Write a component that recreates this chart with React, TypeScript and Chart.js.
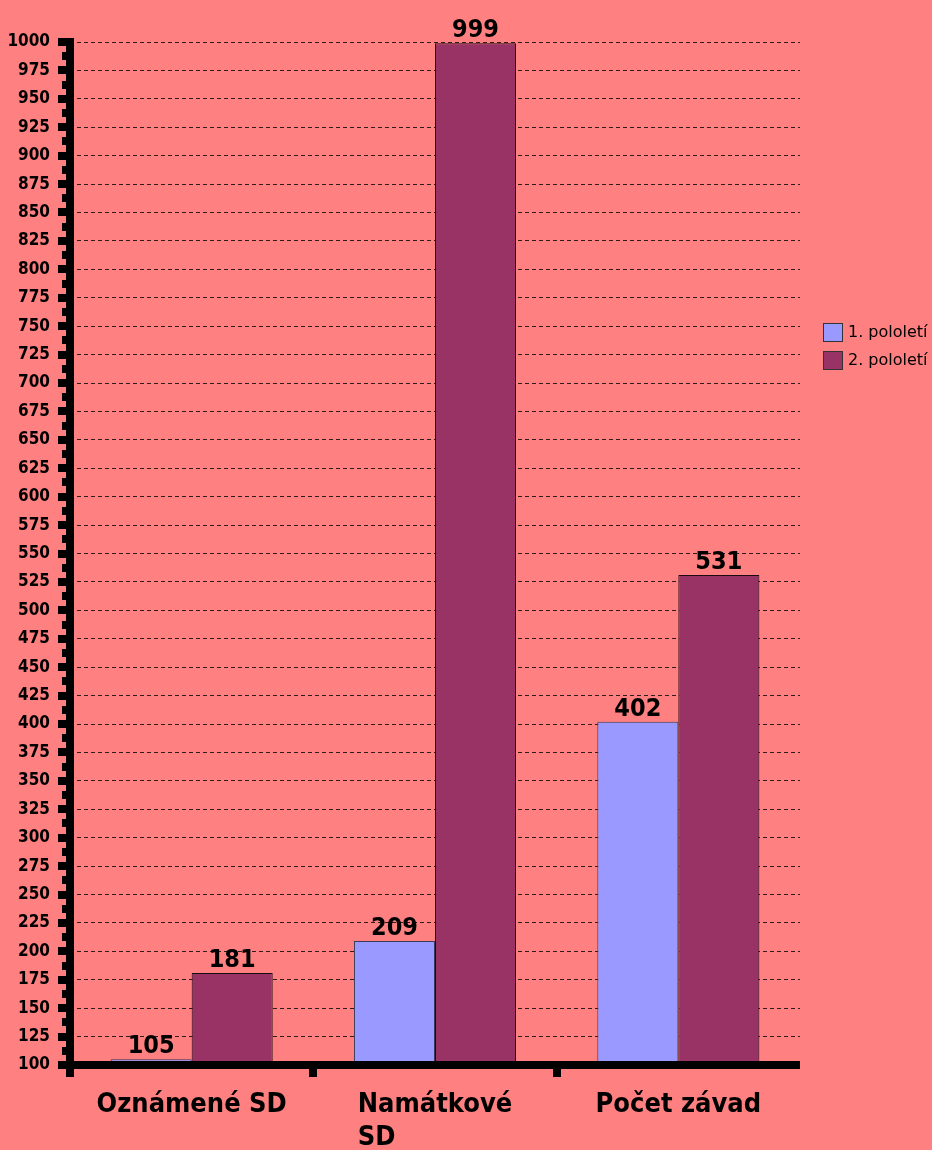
import React, { useEffect, useRef } from "react";
import { Chart, registerables } from "chart.js";

Chart.register(...registerables);

// Categories on the x axis (multi-line entries wrap onto a second line)
const categories: (string | string[])[] = ["Oznámené SD", ["Namátkové", "SD"], "Počet závad"];
// Series
const seriesLabels = ["1. pololetí", "2. pololetí"];
const firstHalf = [105, 209, 402];
const secondHalf = [181, 999, 531];
// Value axis range
const yMin = 100;
const yMax = 1000;
const yStep = 25;

const BG = "#FF8080";
const BLUE = "#9999FF";
const PURPLE = "#993366";
const LABEL_FONT = '"DejaVu Sans Condensed", "DejaVu Sans", sans-serif';

const decorations = {
  id: "decorations",
  afterDraw(chart: any) {
    const { ctx, chartArea, scales } = chart;
    const x = scales.x;
    const y = scales.y;
    ctx.save();
    ctx.fillStyle = "#000";

    // value axis: thick line with major and minor ticks
    const axisX = chartArea.left;
    ctx.fillRect(axisX - 4, chartArea.top - 4, 8, chartArea.bottom + 12 - (chartArea.top - 4));
    const ticks = y.ticks.map((t: any) => t.value);
    ticks.forEach((v: number, i: number) => {
      const py = y.getPixelForValue(v);
      ctx.fillRect(axisX - 12, Math.round(py) - 4, 8, 8);
      if (i < ticks.length - 1) {
        const pm = y.getPixelForValue((v + ticks[i + 1]) / 2);
        ctx.fillRect(axisX - 8, Math.round(pm) - 4, 4, 8);
      }
    });

    // category axis: thick line with boundary ticks
    ctx.fillRect(axisX - 4, chartArea.bottom - 4, chartArea.right - axisX + 4, 8);
    const n = categories.length;
    const step = (x.right - x.left) / n;
    for (let i = 0; i < n; i++) {
      const bx = x.left + i * step;
      ctx.fillRect(Math.round(bx) - 4, chartArea.bottom + 4, 8, 8);
    }

    // category labels, each block centred under its group, lines left-aligned
    ctx.font = `bold 27px ${LABEL_FONT}`;
    ctx.textBaseline = "alphabetic";
    ctx.textAlign = "left";
    categories.forEach((c, i) => {
      const lines = Array.isArray(c) ? c : [c];
      const w = Math.max(...lines.map((l) => ctx.measureText(l).width));
      const cx = x.getPixelForTick(i);
      lines.forEach((l, j) => {
        ctx.fillText(l, cx - w / 2, chartArea.bottom + 47 + j * 33);
      });
    });

    // value labels above bars
    ctx.font = `bold 25px ${LABEL_FONT}`;
    ctx.textAlign = "center";
    chart.data.datasets.forEach((ds: any, di: number) => {
      const meta = chart.getDatasetMeta(di);
      meta.data.forEach((bar: any, i: number) => {
        ctx.fillText(String(ds.data[i]), bar.x, bar.y - 6);
      });
    });

    // legend
    ctx.font = '16px "DejaVu Sans", sans-serif';
    ctx.textAlign = "left";
    ctx.textBaseline = "middle";
    chart.data.datasets.forEach((ds: any, di: number) => {
      const top = 323 + di * 28;
      ctx.fillStyle = ds.backgroundColor;
      ctx.fillRect(823, top, 20, 19);
      ctx.strokeStyle = "#333";
      ctx.lineWidth = 1;
      ctx.strokeRect(823.5, top + 0.5, 19, 18);
      ctx.fillStyle = "#000";
      ctx.fillText(ds.label, 848, top + 10);
    });

    ctx.restore();
  },
};

export default function App() {
  const ref = useRef<HTMLCanvasElement | null>(null);

  useEffect(() => {
    document.body.style.margin = "0";
    document.body.style.background = BG;
    const canvas = ref.current;
    if (!canvas) return;
    const chart = new Chart(canvas, {
      type: "bar",
      data: {
        labels: categories as any,
        datasets: [
          {
            label: seriesLabels[0],
            data: firstHalf,
            backgroundColor: BLUE,
            borderColor: "#3a3a5a",
            borderWidth: 1,
            base: yMin,
          } as any,
          {
            label: seriesLabels[1],
            data: secondHalf,
            backgroundColor: PURPLE,
            borderColor: "#1a0a10",
            borderWidth: 1,
            base: yMin,
          } as any,
        ],
      },
      options: {
        responsive: false,
        animation: false,
        devicePixelRatio: 1,
        layout: { padding: { top: 42, right: 132, left: 0, bottom: 0 } },
        plugins: {
          legend: { display: false },
          title: { display: false },
          tooltip: { enabled: false },
        },
        datasets: {
          bar: { categoryPercentage: 0.666, barPercentage: 1 },
        },
        scales: {
          x: {
            type: "category",
            offset: true,
            grid: { display: false },
            border: { display: false },
            ticks: { display: false },
            afterFit: (s: any) => {
              s.height = 85;
            },
          },
          y: {
            min: yMin,
            max: yMax,
            border: { display: false, dash: [4, 3] },
            grid: { color: "rgba(0,0,0,0.8)", lineWidth: 1, drawTicks: false },
            ticks: {
              stepSize: yStep,
              autoSkip: false,
              padding: 20,
              color: "#000",
              font: { family: LABEL_FONT, weight: "bold", size: 17 },
              callback: (v: any) => String(v),
            },
            afterFit: (s: any) => {
              s.width = 70;
            },
          },
        },
      },
      plugins: [decorations],
    });
    return () => chart.destroy();
  }, []);

  return (
    <div style={{ width: 932, height: 1150, background: BG }}>
      <canvas ref={ref} width={932} height={1150} style={{ display: "block" }} />
    </div>
  );
}
